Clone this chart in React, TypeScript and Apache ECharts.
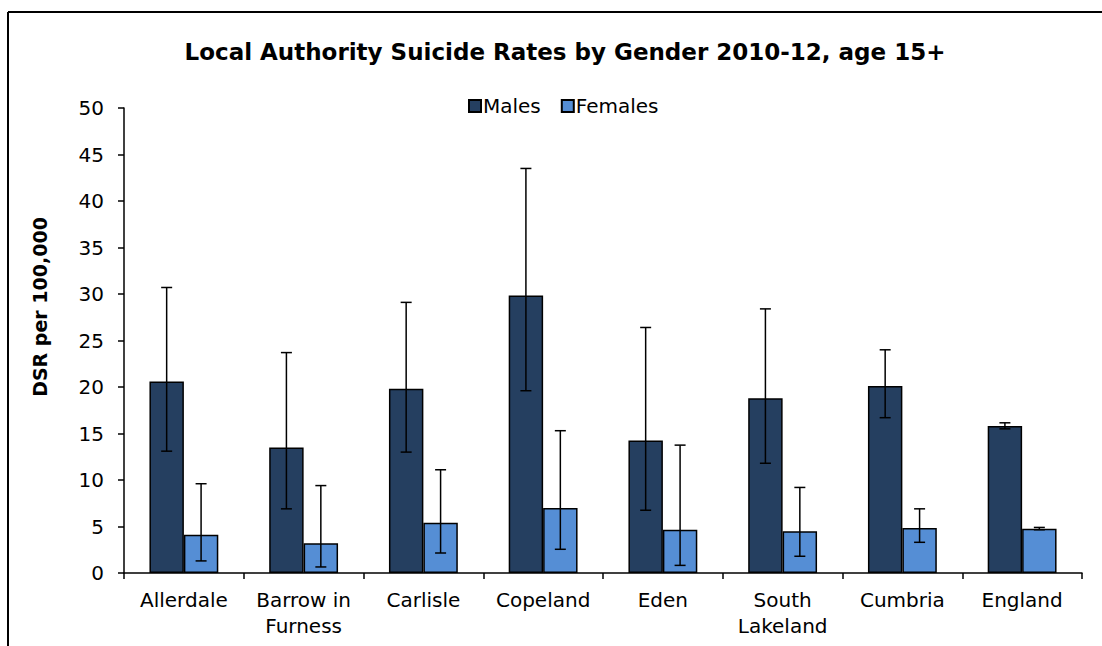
import React, { useEffect, useRef } from "react";
import * as echarts from "echarts";

const categories = ["Allerdale", "Barrow in\nFurness", "Carlisle", "Copeland", "Eden", "South\nLakeland", "Cumbria", "England"];
const malesValues = [20.6, 13.5, 19.8, 29.85, 14.25, 18.8, 20.1, 15.8];
const malesLow = [13.1, 6.9, 13.0, 19.6, 6.75, 11.8, 16.7, 15.5];
const malesHigh = [30.7, 23.7, 29.1, 43.5, 26.4, 28.4, 24.0, 16.15];
const femalesValues = [4.1, 3.2, 5.4, 7.0, 4.65, 4.5, 4.85, 4.77];
const femalesLow = [1.3, 0.65, 2.15, 2.55, 0.82, 1.8, 3.3, 4.65];
const femalesHigh = [9.6, 9.4, 11.1, 15.3, 13.75, 9.2, 6.9, 4.9];

const BAR_CATEGORY_GAP = 0.425;

function errorSeries(name: string, low: number[], high: number[], side: number) {
  return {
    type: "custom",
    name: name + " CI",
    z: 10,
    silent: true,
    data: low.map((l, i) => [i, l, high[i]]),
    renderItem: (params: any, api: any) => {
      const idx = api.value(0);
      const lo = api.coord([idx, api.value(1)]);
      const hi = api.coord([idx, api.value(2)]);
      const band = api.size([1, 0])[0];
      const barW = (band * (1 - BAR_CATEGORY_GAP)) / 2;
      const x = lo[0] + side * barW / 2;
      const cap = 5.5;
      const style = { stroke: "#000", lineWidth: 1.5 };
      return {
        type: "group",
        children: [
          { type: "line", shape: { x1: x, y1: lo[1], x2: x, y2: hi[1] }, style },
          { type: "line", shape: { x1: x - cap, y1: hi[1], x2: x + cap, y2: hi[1] }, style },
          { type: "line", shape: { x1: x - cap, y1: lo[1], x2: x + cap, y2: lo[1] }, style },
        ],
      };
    },
  };
}

export default function App() {
  const ref = useRef<HTMLDivElement>(null);
  useEffect(() => {
    if (!ref.current) return;
    const chart = echarts.init(ref.current, null, { renderer: "svg" });
    const font = "'DejaVu Sans', Arial, sans-serif";
    chart.setOption({
      animation: false,
      backgroundColor: "#fff",
      textStyle: { fontFamily: font },
      title: {
        text: "Local Authority Suicide Rates by Gender 2010-12, age 15+",
        left: 560,
        textAlign: "center",
        top: 35,
        textStyle: { fontSize: 23, fontWeight: "bold", color: "#000", fontFamily: font },
      },
      legend: {
        data: ["Males", "Females"],
        top: 91,
        left: 463,
        itemWidth: 12,
        itemHeight: 12,
        itemGap: 20,
        icon: "rect",
        textStyle: { fontSize: 20, color: "#000", fontFamily: font, padding: [0, 0, 0, -3] },
      },
      grid: { left: 124, right: 20, top: 108, bottom: 73 },
      xAxis: {
        type: "category",
        data: categories,
        axisLine: { lineStyle: { color: "#000", width: 1.5 } },
        axisTick: { show: true, length: 6, lineStyle: { color: "#000", width: 1.5 } },
        axisLabel: { fontSize: 20, color: "#000", margin: 14, lineHeight: 26, fontFamily: font, interval: 0 },
      },
      yAxis: {
        type: "value",
        min: 0,
        max: 50,
        interval: 5,
        splitLine: { show: false },
        axisLine: { show: true, lineStyle: { color: "#000", width: 1.5 } },
        axisTick: { show: true, length: 6, lineStyle: { color: "#000", width: 1.5 } },
        axisLabel: { fontSize: 20, color: "#000", margin: 20, fontFamily: font },
      },
      series: [
        {
          type: "bar",
          name: "Males",
          data: malesValues,
          barGap: "0%",
          barCategoryGap: BAR_CATEGORY_GAP * 100 + "%",
          itemStyle: { color: "#253F60", borderColor: "#000", borderWidth: 1.5 },
        },
        {
          type: "bar",
          name: "Females",
          data: femalesValues,
          barGap: "0%",
          barCategoryGap: BAR_CATEGORY_GAP * 100 + "%",
          itemStyle: { color: "#558ED5", borderColor: "#000", borderWidth: 1.5 },
        },
        errorSeries("Males", malesLow, malesHigh, -1),
        errorSeries("Females", femalesLow, femalesHigh, 1),
      ],
      graphic: [
        { type: "line", shape: { x1: 8, y1: 12, x2: 1102, y2: 12 }, style: { stroke: "#000", lineWidth: 2 } },
        { type: "line", shape: { x1: 8, y1: 12, x2: 8, y2: 646 }, style: { stroke: "#000", lineWidth: 2 } },
        {
          type: "text",
          x: 40,
          y: 307,
          rotation: Math.PI / 2,
          style: {
            text: "DSR per 100,000",
            fontSize: 19,
            fontWeight: "bold",
            fontFamily: font,
            fill: "#000",
            align: "center",
            verticalAlign: "middle",
          },
        },
      ],
    });
    return () => chart.dispose();
  }, []);
  return <div ref={ref} style={{ position: "fixed", left: 0, top: 0, width: 1102, height: 646 }} />;
}
